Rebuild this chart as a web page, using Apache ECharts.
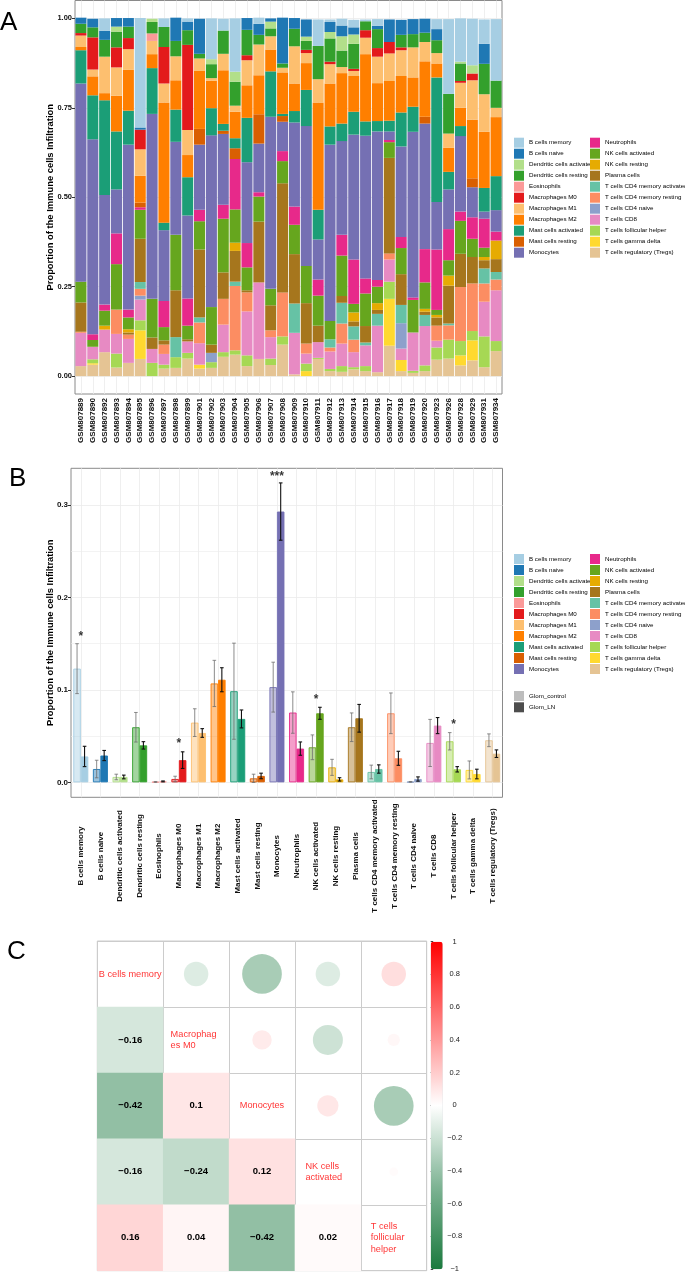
<!DOCTYPE html>
<html><head><meta charset="utf-8">
<script src="https://cdn.jsdelivr.net/npm/echarts@6/dist/echarts.min.js"></script>
<style>html,body{margin:0;padding:0;background:#fff}#c{width:685px;height:1273px}</style>
</head><body><div id="c"></div>
<script>
// ---------------- DATA ----------------
const cellTypes = ['B cells memory','B cells naive','Dendritic cells activated','Dendritic cells resting','Eosinophils','Macrophages M0','Macrophages M1','Macrophages M2','Mast cells activated','Mast cells resting','Monocytes','Neutrophils','NK cells activated','NK cells resting','Plasma cells','T cells CD4 memory activated','T cells CD4 memory resting','T cells CD4 naive','T cells CD8','T cells follicular helper','T cells gamma delta','T cells regulatory (Tregs)'];
const cellColors = ['#A6CEE3','#1F78B4','#B2DF8A','#33A02C','#FB9A99','#E31A1C','#FDBF6F','#FF7F00','#1B9E77','#D95F02','#7570B3','#E7298A','#66A61E','#E6AB02','#A6761D','#66C2A5','#FC8D62','#8DA0CB','#E78AC3','#A6D854','#FFD92F','#E5C494'];
const samples = ['GSM807889','GSM807890','GSM807892','GSM807893','GSM807894','GSM807895','GSM807896','GSM807897','GSM807898','GSM807899','GSM807901','GSM807902','GSM807903','GSM807904','GSM807905','GSM807906','GSM807907','GSM807908','GSM807909','GSM807910','GSM807911','GSM807912','GSM807913','GSM807914','GSM807915','GSM807916','GSM807917','GSM807918','GSM807919','GSM807920','GSM807923','GSM807926','GSM807928','GSM807929','GSM807931','GSM807934'];

const bMemory = [0,0,0.035,0,0,0.306,0,0.024,0,0.009,0,0.114,0.033,0.149,0,0.017,0,0,0,0,0.074,0.007,0.019,0.021,0.005,0.019,0,0,0,0,0.028,0.209,0.121,0.130,0.068,0.172];
const bNaive = [0.017,0.024,0.025,0.024,0.024,0.006,0,0,0.065,0.024,0.098,0,0,0,0.033,0.031,0.009,0.128,0.030,0.048,0,0.028,0.030,0.020,0,0.009,0.063,0.042,0.042,0.039,0.031,0,0,0,0.056,0];
const dcActivated = [0,0,0,0.014,0,0,0.009,0,0,0,0,0.014,0,0.028,0,0,0.019,0,0,0.012,0,0.018,0.040,0.026,0,0,0,0,0,0,0,0,0.005,0.023,0,0];
const dcResting = [0.026,0.028,0.047,0.044,0.032,0,0.032,0.056,0.043,0.041,0.013,0.039,0.065,0.067,0.071,0.027,0.022,0.012,0.049,0.025,0.093,0.065,0.046,0.070,0.025,0.053,0,0.035,0.037,0.026,0.036,0.111,0.049,0,0.085,0.076];
const eosinophils = [0,0,0,0,0,0,0.021,0,0,0,0,0,0,0,0,0,0,0,0,0,0,0,0,0,0,0,0,0,0,0,0,0,0,0,0,0];
const macroM0 = [0.007,0.090,0,0.056,0.031,0.055,0,0.102,0,0.238,0,0,0,0,0.014,0,0,0,0,0.009,0,0.007,0,0.006,0.021,0.024,0.032,0.008,0,0,0,0,0.005,0.019,0,0];
const macroM1 = [0.032,0.019,0.102,0.079,0.058,0.074,0.037,0.053,0.067,0.070,0.035,0.007,0.046,0.017,0.070,0.086,0.037,0.013,0.104,0.028,0.065,0.054,0.017,0.014,0.046,0.074,0.077,0.072,0.084,0.054,0.029,0.040,0.070,0.110,0.105,0.026];
const macroM2 = [0.009,0.053,0.020,0.100,0.114,0.075,0.039,0.336,0.082,0.062,0.162,0.077,0.150,0.074,0.091,0.109,0.061,0.116,0.077,0.075,0.300,0.120,0.141,0.100,0.188,0.106,0.111,0.102,0.082,0.155,0.039,0.067,0.051,0.164,0.157,0.165];
const mastActivated = [0.093,0.123,0.265,0.162,0.095,0,0.128,0.021,0.090,0.107,0,0.076,0.019,0.028,0.124,0,0.127,0.006,0.032,0.101,0.083,0.051,0.049,0.064,0.040,0.029,0.030,0.095,0.070,0,0.348,0.049,0.028,0,0.066,0.095];
const mastResting = [0,0,0,0,0,0.013,0,0,0,0,0.044,0,0.009,0.030,0,0.082,0,0.016,0,0,0,0,0,0,0,0,0,0,0,0.019,0,0,0,0.025,0,0];
const monocytes = [0.554,0.545,0.306,0.123,0.461,0,0.517,0.198,0.260,0.232,0.182,0.480,0.198,0,0.226,0.136,0.481,0.082,0.235,0.391,0.112,0.493,0.262,0.349,0.399,0.415,0.024,0.253,0.463,0.351,0.133,0.111,0.211,0.084,0.020,0.060];
const neutrophils = [0,0.016,0.017,0.086,0.022,0.007,0,0.073,0,0.076,0.032,0,0.039,0.141,0.068,0.012,0,0.028,0.051,0,0.045,0,0.058,0.124,0.042,0.019,0.006,0.031,0.007,0.093,0.169,0.087,0.026,0.060,0.081,0.025];
const nkActivated = [0.058,0.019,0.042,0.127,0.033,0.081,0.108,0.037,0.155,0.038,0.079,0.105,0.150,0.093,0.064,0.070,0.046,0.062,0.082,0.104,0.084,0.051,0.113,0.024,0.091,0.046,0.044,0.073,0.091,0.074,0.014,0.043,0.092,0.051,0.026,0];
const nkResting = [0,0,0.011,0,0.009,0,0,0,0,0,0,0,0,0.023,0,0,0,0,0,0,0,0,0,0.025,0,0.019,0,0,0,0.008,0.007,0.028,0,0,0.009,0.052];
const plasma = [0.082,0,0,0,0.006,0.121,0.032,0.012,0.131,0.006,0.190,0.023,0.074,0.086,0.006,0.170,0.070,0.305,0.138,0.113,0.046,0,0.019,0.014,0.046,0.011,0.267,0.086,0,0.009,0.023,0.106,0.093,0.074,0.023,0.036];
const cd4MemAct = [0,0,0,0,0,0.019,0,0,0.056,0,0.014,0,0,0.012,0,0,0,0,0.082,0,0,0.023,0.058,0.037,0.008,0.033,0,0.051,0,0.031,0,0.005,0,0,0.042,0.021];
const cd4MemRest = [0.003,0,0,0.068,0.012,0.019,0,0.026,0,0,0.058,0,0.072,0.180,0.053,0,0.019,0.123,0,0.028,0,0.011,0.056,0.035,0,0,0.017,0,0,0,0.042,0.040,0.151,0.133,0.051,0.030];
const cd4Naive = [0,0,0,0,0,0.011,0,0,0,0,0,0.026,0,0,0,0,0,0,0,0,0,0,0,0,0,0,0,0.071,0,0,0,0,0,0,0,0];
const cd8 = [0.093,0.035,0.063,0.055,0.067,0.058,0.039,0.030,0,0.032,0.060,0,0.077,0,0.123,0.214,0.060,0,0.116,0.028,0.044,0.049,0.063,0.042,0.058,0.130,0.062,0.032,0.107,0.110,0.019,0,0,0,0.097,0.142];
const tfh = [0,0.011,0,0.039,0,0.028,0.037,0.011,0.030,0.016,0,0.016,0.013,0.012,0.030,0,0.018,0.023,0,0.021,0.003,0.006,0.016,0.006,0.014,0,0.048,0,0.006,0.016,0.034,0.053,0.040,0.026,0.086,0.028];
const gammaDelta = [0,0.004,0,0,0,0.080,0,0,0,0,0.011,0,0,0,0,0,0,0,0,0.014,0,0,0,0,0,0,0.131,0.031,0,0,0,0,0.028,0.056,0,0];
const tregs = [0.028,0.032,0.067,0.024,0.037,0.048,0,0.021,0.023,0.049,0.021,0.023,0.054,0.060,0.028,0.048,0.031,0.088,0.005,0,0.048,0.014,0.012,0.019,0.014,0.011,0.085,0.014,0.009,0.014,0.046,0.049,0.030,0.044,0.025,0.070];
const fractions = [bMemory,bNaive,dcActivated,dcResting,eosinophils,macroM0,macroM1,macroM2,mastActivated,mastResting,monocytes,neutrophils,nkActivated,nkResting,plasma,cd4MemAct,cd4MemRest,cd4Naive,cd8,tfh,gammaDelta,tregs];
const yTicksA = [0, 0.25, 0.5, 0.75, 1];

// Panel B
const ctrlMean = [0.123,0.0144,0.0058,0.0596,0.0004,0.0036,0.0646,0.107,0.0986,0.0043,0.103,0.0755,0.0379,0.0162,0.0596,0.0112,0.0747,0.0005,0.0426,0.0444,0.0134,0.0455];
const ctrlErr  = [0.027,0.0095,0.003,0.016,0.0005,0.003,0.015,0.025,0.052,0.0045,0.027,0.0224,0.0134,0.0087,0.0155,0.0074,0.022,0.0004,0.0255,0.0094,0.0097,0.0069];
const lnMean   = [0.028,0.029,0.0058,0.040,0.001,0.024,0.0534,0.111,0.0686,0.0069,0.293,0.0365,0.0747,0.0032,0.0693,0.0144,0.026,0.0036,0.0614,0.0141,0.009,0.031];
const lnErr    = [0.011,0.0055,0.002,0.004,0.0005,0.009,0.0047,0.013,0.0097,0.003,0.031,0.0072,0.0065,0.0018,0.015,0.0045,0.0076,0.0023,0.0087,0.0029,0.0052,0.0041];
const sigText  = ['*','','','','','*','','','','','***','','*','','','','','','','*','',''];
const sigY     = [0.158,0,0,0,0,0.0415,0,0,0,0,0.331,0,0.0899,0,0,0,0,0,0,0.0621,0,0];
const yTicksB = [0, 0.1, 0.2, 0.3];
const yMinorB = [0.05, 0.15, 0.25];

// Panel C
const corrNames = ['B cells memory','Macrophages M0','Monocytes','NK cells activated','T cells follicular helper'];
const corrDiagLines = [['B cells memory'],['Macrophag','es M0'],['Monocytes'],['NK cells','activated'],['T cells','follicular','helper']];
const corrMatrix = [
  [1,-0.16,-0.42,-0.16,0.16],
  [-0.16,1,0.1,-0.24,0.04],
  [-0.42,0.1,1,0.12,-0.42],
  [-0.16,-0.24,0.12,1,0.02],
  [0.16,0.04,-0.42,0.02,1]
];

// ---------------- CHART ----------------
const FONT = '"Liberation Sans", Arial, Helvetica, sans-serif';
const chart = echarts.init(document.getElementById('c'), null, {renderer:'canvas', width:685, height:1273});
function rgba(hex, a){ const n = parseInt(hex.slice(1),16); return 'rgba('+((n>>16)&255)+','+((n>>8)&255)+','+(n&255)+','+a+')'; }
const minus = s => String(s).replace('-', '\u2212');

const series = [];
for (let k = cellTypes.length - 1; k >= 0; k--) {
  series.push({
    name: cellTypes[k], type:'bar', stack:'total', xAxisIndex:0, yAxisIndex:0,
    barCategoryGap:'7%', data: fractions[k], itemStyle:{color: cellColors[k]},
    emphasis:{disabled:true}, silent:true
  });
}
series.push({
  name:'Glom_control', type:'bar', xAxisIndex:1, yAxisIndex:1, barWidth:7.5, barGap:'0%',
  itemStyle:{color:'#bdbdbd'}, emphasis:{disabled:true}, silent:true,
  data: ctrlMean.map((v,i)=>({value:v, itemStyle:{color: rgba(cellColors[i],0.45), borderColor: cellColors[i], borderWidth:0.9}}))
});
series.push({
  name:'Glom_LN', type:'bar', xAxisIndex:1, yAxisIndex:1, barWidth:7.5, barGap:'0%',
  itemStyle:{color:'#4d4d4d'}, emphasis:{disabled:true}, silent:true,
  data: lnMean.map((v,i)=>({value:v, itemStyle:{color: cellColors[i], borderColor: cellColors[i], borderWidth:0.9}}))
});
function makeErr(dx, color, w){
  return function(params, api){
    const p1 = api.coord([api.value(0), api.value(1)]);
    const p2 = api.coord([api.value(0), api.value(2)]);
    const x = p1[0] + dx, cw = 1.8;
    const st = {stroke: color, lineWidth: w};
    return {type:'group', children:[
      {type:'line', shape:{x1:x, y1:p1[1], x2:x, y2:p2[1]}, style:st},
      {type:'line', shape:{x1:x-cw, y1:p1[1], x2:x+cw, y2:p1[1]}, style:st},
      {type:'line', shape:{x1:x-cw, y1:p2[1], x2:x+cw, y2:p2[1]}, style:st}
    ]};
  };
}
series.push({type:'custom', xAxisIndex:1, yAxisIndex:1, z:5, silent:true, clip:false,
  encode:{x:0, y:[1,2]},
  data: ctrlMean.map((v,i)=>[i, v-ctrlErr[i], v+ctrlErr[i]]), renderItem: makeErr(-3.75, '#6e6e6e', 0.8)});
series.push({type:'custom', xAxisIndex:1, yAxisIndex:1, z:5, silent:true, clip:false,
  encode:{x:0, y:[1,2]},
  data: lnMean.map((v,i)=>[i, v-lnErr[i], v+lnErr[i]]), renderItem: makeErr(3.75, '#111111', 1.1)});
series.push({type:'scatter', xAxisIndex:1, yAxisIndex:1, symbolSize:0, silent:true, clip:false, z:6,
  data: sigText.map((t,i)=> t ? {value:[i, sigY[i]], label:{formatter:t}} : null).filter(d=>d),
  label:{show:true, position:'inside', fontSize:12, fontWeight:'bold', color:'#000', fontFamily:FONT}});

// Panel C
const heatData = [], circleData = [], diagData = [];
for (let i = 0; i < 5; i++) for (let j = 0; j < 5; j++) {
  if (i > j) heatData.push([j, i, corrMatrix[i][j]]);
  else if (i < j) circleData.push([j, i, corrMatrix[i][j]]);
}
const diagWidths = [0, 51, 0, 45, 46];
for (let k = 0; k < 5; k++) {
  diagData.push({value:[k, k], label:{
    formatter: corrDiagLines[k].map(l => '{t|' + l + '}').join('\n'),
    rich:{t:{color:'#ff0000', fontSize:9.2, lineHeight:11.3, align:'left', fontFamily:FONT, width: diagWidths[k] || undefined}}
  }});
}
const cellPx = 329.4 / 5;
const heatIdx = series.length;
series.push({type:'heatmap', xAxisIndex:2, yAxisIndex:2, data: heatData, silent:true,
  label:{show:true, formatter: p => minus(p.value[2]), fontSize:9.5, fontWeight:'bold', color:'#000', fontFamily:FONT},
  emphasis:{disabled:true}});
const circIdx = series.length;
series.push({type:'scatter', xAxisIndex:2, yAxisIndex:2, data: circleData, silent:true,
  symbol:'circle', symbolSize: v => 0.93 * cellPx * Math.sqrt(Math.abs(v[2])), emphasis:{disabled:true}});
series.push({type:'scatter', xAxisIndex:2, yAxisIndex:2, data: diagData, silent:true, symbolSize:0,
  label:{show:true, position:'inside'}, itemStyle:{color:'transparent'}});

const legendBase = {orient:'vertical', itemWidth:10, itemHeight:10, itemGap:1, icon:'rect', padding:0,
  selectedMode:false, textStyle:{fontSize:6.2, color:'#000', fontFamily:FONT}};

const axisLabelBold = {fontFamily:FONT, fontWeight:'bold', color:'#111'};

const option = {
  animation:false,
  textStyle:{fontFamily:FONT},
  title:[
    {text:'A', left:0, top:10, padding:0, textStyle:{fontSize:26, fontWeight:'normal', color:'#000', fontFamily:FONT}},
    {text:'B', left:9, top:466, padding:0, textStyle:{fontSize:26, fontWeight:'normal', color:'#000', fontFamily:FONT}},
    {text:'C', left:7, top:939, padding:0, textStyle:{fontSize:26, fontWeight:'normal', color:'#000', fontFamily:FONT}}
  ],
  legend:[
    Object.assign({}, legendBase, {data: cellTypes.slice(0,11), left:514, top:137.7}),
    Object.assign({}, legendBase, {data: cellTypes.slice(11), left:590, top:137.7}),
    Object.assign({}, legendBase, {data: cellTypes.slice(0,11), left:514, top:554}),
    Object.assign({}, legendBase, {data: cellTypes.slice(11), left:590, top:554}),
    Object.assign({}, legendBase, {data: ['Glom_control','Glom_LN'], left:514, top:691, itemGap:1.3})
  ],
  grid:[
    {left:75, right:183, top:0.5, height:393.5, show:true, borderColor:'#8a8a8a', borderWidth:1, backgroundColor:'#fff'},
    {left:71, right:182.5, top:468.3, height:329, show:true, borderColor:'#8a8a8a', borderWidth:1, backgroundColor:'#fff'},
    {left:97.3, top:941, width:329.4, height:329.7, show:true, borderColor:'#cccccc', borderWidth:1, backgroundColor:'#fff'},
    {left:430.7, top:941.7, width:12, height:327.6}
  ],
  xAxis:[
    {type:'category', gridIndex:0, data:samples, axisLine:{show:false},
     axisTick:{alignWithLabel:true, length:3, lineStyle:{color:'#333'}},
     axisLabel:Object.assign({rotate:90, fontSize:8, margin:4, interval:0}, axisLabelBold),
     splitLine:{show:true, alignWithLabel:true, interval:0, lineStyle:{color:'#ebebeb', width:0.8}}},
    {type:'category', gridIndex:1, data:cellTypes, axisLine:{show:false},
     axisTick:{alignWithLabel:true, length:3, lineStyle:{color:'#333'}},
     axisLabel:Object.assign({rotate:90, fontSize:8, margin:58.7, interval:0, align:'center', verticalAlign:'middle'}, axisLabelBold),
     splitLine:{show:true, alignWithLabel:true, interval:0, lineStyle:{color:'#ebebeb', width:0.8}}},
    {type:'category', gridIndex:2, data:corrNames, axisLine:{show:false}, axisTick:{show:false, interval:0}, axisLabel:{show:false, interval:0},
     splitLine:{show:true, interval:0, lineStyle:{color:'#cccccc', width:1}}},
    {type:'value', gridIndex:3, show:false, min:0, max:1}
  ],
  yAxis:[
    {type:'value', gridIndex:0, min:-0.05, max:1.05, axisLine:{show:false},
     axisTick:{show:true, length:3, customValues:yTicksA, lineStyle:{color:'#333'}},
     axisLabel:Object.assign({fontSize:7.5, margin:3, customValues:yTicksA, formatter: v => v.toFixed(2)}, axisLabelBold),
     splitLine:{show:true, lineStyle:{color:'#ebebeb', width:0.8}},
     name:'Proportion of the Immune cells Infiltration', nameLocation:'middle', nameRotate:90, nameGap:20, nameMoveOverlap:false,
     nameTextStyle:{fontSize:9.4, fontWeight:'bold', color:'#000', fontFamily:FONT}},
    {type:'value', gridIndex:1, min:-0.0162, max:0.3398, axisLine:{show:false},
     axisTick:{show:true, length:3, customValues:yTicksB, lineStyle:{color:'#333'}},
     axisLabel:Object.assign({fontSize:8, margin:3, customValues:yTicksB, formatter: v => v.toFixed(1)}, axisLabelBold),
     splitLine:{show:true, lineStyle:{color:'#ebebeb', width:0.8}},
     name:'Proportion of the Immune cells Infiltration', nameLocation:'middle', nameRotate:90, nameGap:16, nameMoveOverlap:false,
     nameTextStyle:{fontSize:9.4, fontWeight:'bold', color:'#000', fontFamily:FONT}},
    {type:'category', gridIndex:2, data:corrNames, inverse:true, axisLine:{show:false}, axisTick:{show:false, interval:0}, axisLabel:{show:false, interval:0},
     splitLine:{show:true, interval:0, lineStyle:{color:'#cccccc', width:1}}},
    {type:'value', gridIndex:3, min:-1, max:1, interval:0.2, position:'right', axisLine:{show:false},
     axisTick:{show:true, length:2.5, lineStyle:{color:'#444'}},
     axisLabel:{fontSize:7.5, margin:12, align:'center', color:'#222', fontFamily:FONT,
       formatter: v => minus(Math.round(v*10)/10)},
     splitLine:{show:false}},
    {type:'value', gridIndex:1, min:-0.0162, max:0.3398, show:true, axisLine:{show:false},
     axisTick:{show:false, customValues:yMinorB}, axisLabel:{show:false},
     splitLine:{show:true, lineStyle:{color:'#ebebeb', width:0.6}}}
  ],
  visualMap:{type:'continuous', min:-1, max:1, seriesIndex:[heatIdx, circIdx], calculable:false, hoverLink:false,
    left:430.7, top:941.7, itemWidth:12, itemHeight:327.6, padding:0, orient:'vertical',
    inRange:{color:['#1b7a3e','#7db393','#ffffff','#ff8080','#ff0000']}, textStyle:{fontSize:1, color:'transparent'}},
  series: series
};
chart.setOption(option);
</script>
</body></html>
